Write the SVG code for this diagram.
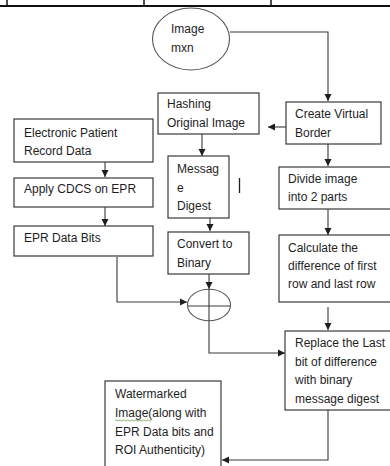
<svg xmlns="http://www.w3.org/2000/svg" width="390" height="466" viewBox="0 0 390 466">
<style>
  .box { fill: #fff; stroke: #3a3a3a; stroke-width: 1.2; }
  .t { font-family: "Liberation Sans", Arial, sans-serif; font-size: 12px; fill: #1e1e1e; }
  .c { fill: none; stroke: #3a3a3a; stroke-width: 1.1; }
</style>
<defs>
  <marker id="ah" markerUnits="userSpaceOnUse" markerWidth="8" markerHeight="8" refX="7" refY="4" orient="auto">
    <path d="M0,0.5 L7,4 L0,7.5 z" fill="#1e1e1e"/>
  </marker>
</defs>
<rect width="390" height="466" fill="#fff"/>
<g id="topframe" stroke="#111" fill="none">
  <line x1="0" y1="6" x2="390" y2="6" stroke-width="2"/>
  <line x1="7" y1="0" x2="7" y2="6" stroke-width="1.5"/>
  <line x1="144" y1="0" x2="144" y2="6" stroke-width="1.5"/>
  <line x1="271" y1="0" x2="271" y2="6" stroke-width="1.5"/>
</g>
<g id="connectors">
  <path class="c" d="M230,32 H328 V101" marker-end="url(#ah)"/>
  <path class="c" d="M286,127 H268" marker-end="url(#ah)"/>
  <path class="c" d="M202,134 V156" marker-end="url(#ah)"/>
  <path class="c" d="M210,218 V231" marker-end="url(#ah)"/>
  <path class="c" d="M328,144 V166" marker-end="url(#ah)"/>
  <path class="c" d="M328,209 V235" marker-end="url(#ah)"/>
  <path class="c" d="M328,307 V330" marker-end="url(#ah)"/>
  <path class="c" d="M105,162 V177" marker-end="url(#ah)"/>
  <path class="c" d="M105,207 V226" marker-end="url(#ah)"/>
  <path class="c" d="M117,257 V302 H187" marker-end="url(#ah)"/>
  <path class="c" d="M209,274 V289" marker-end="url(#ah)"/>
  <path class="c" d="M209,321 V353 H285" marker-end="url(#ah)"/>
  <path class="c" d="M328,410 V460 H222" marker-end="url(#ah)"/>
</g>
<g id="image">
  <ellipse cx="191" cy="39" rx="38.5" ry="31" fill="#fff" stroke="#555" stroke-width="1.1"/>
  <text class="t" x="171" y="33">Image</text>
  <text class="t" x="171" y="52">mxn</text>
</g>
<g id="hashing">
  <rect class="box" x="158" y="93" width="101" height="41"/>
  <text class="t" x="167" y="108">Hashing</text>
  <text class="t" x="167" y="127">Original Image</text>
</g>
<g id="virtualborder">
  <rect class="box" x="286" y="102" width="95" height="42"/>
  <text class="t" x="295" y="118">Create Virtual</text>
  <text class="t" x="295" y="137">Border</text>
</g>
<g id="digest">
  <rect class="box" x="168" y="156" width="61" height="62"/>
  <text class="t" x="177" y="173">Messag</text>
  <text class="t" x="177" y="192">e</text>
  <text class="t" x="177" y="210">Digest</text>
</g>
<line x1="239.5" y1="178" x2="239.5" y2="193" stroke="#1e1e1e" stroke-width="1.3"/>
<g id="binary">
  <rect class="box" x="168" y="232" width="81" height="42"/>
  <text class="t" x="177" y="248">Convert to</text>
  <text class="t" x="177" y="267">Binary</text>
</g>
<g id="divide">
  <rect class="box" x="279" y="167" width="115" height="42"/>
  <text class="t" x="288" y="183">Divide image</text>
  <text class="t" x="288" y="201">into 2 parts</text>
</g>
<g id="calculate">
  <rect class="box" x="279" y="235" width="115" height="67"/>
  <text class="t" x="288" y="252">Calculate the</text>
  <text class="t" x="288" y="270">difference of first</text>
  <text class="t" x="288" y="288">row and last row</text>
</g>
<g id="replace">
  <rect class="box" x="285" y="331" width="109" height="79"/>
  <text class="t" x="295" y="347">Replace the Last</text>
  <text class="t" x="295" y="366">bit of difference</text>
  <text class="t" x="295" y="384">with binary</text>
  <text class="t" x="295" y="403">message digest</text>
</g>
<g id="epr">
  <rect class="box" x="14" y="119" width="139" height="43"/>
  <text class="t" x="24" y="137">Electronic Patient</text>
  <text class="t" x="24" y="155">Record Data</text>
</g>
<g id="cdcs">
  <rect class="box" x="14" y="178" width="139" height="29"/>
  <text class="t" x="24" y="193">Apply CDCS on EPR</text>
</g>
<g id="eprbits">
  <rect class="box" x="14" y="226" width="139" height="30"/>
  <text class="t" x="24" y="242">EPR Data Bits</text>
</g>
<g id="xor">
  <ellipse cx="209" cy="305" rx="21.5" ry="15.7" fill="none" stroke="#555" stroke-width="1.1"/>
  <line x1="187.5" y1="306" x2="230.5" y2="306" stroke="#3a3a3a" stroke-width="1.1"/>
  <line x1="209" y1="289" x2="209" y2="321" stroke="#3a3a3a" stroke-width="1.1"/>
</g>
<g id="watermarked">
  <rect class="box" x="105" y="381" width="116" height="95"/>
  <text class="t" x="115" y="398">Watermarked</text>
  <text class="t" x="115" y="417">Image(along with</text>
  <text class="t" x="115" y="436">EPR Data bits and</text>
  <text class="t" x="115" y="454">ROI Authenticity)</text>
  <path d="M115,420.5 q1,-1.2 2,0 t2,0 t2,0 t2,0 t2,0 t2,0 t2,0 t2,0 t2,0 t2,0 t2,0 t2,0 t2,0 t2,0 t2,0 t2,0 t2,0 t2,0" fill="none" stroke="#6aa84f" stroke-width="0.8"/>
</g>
</svg>
